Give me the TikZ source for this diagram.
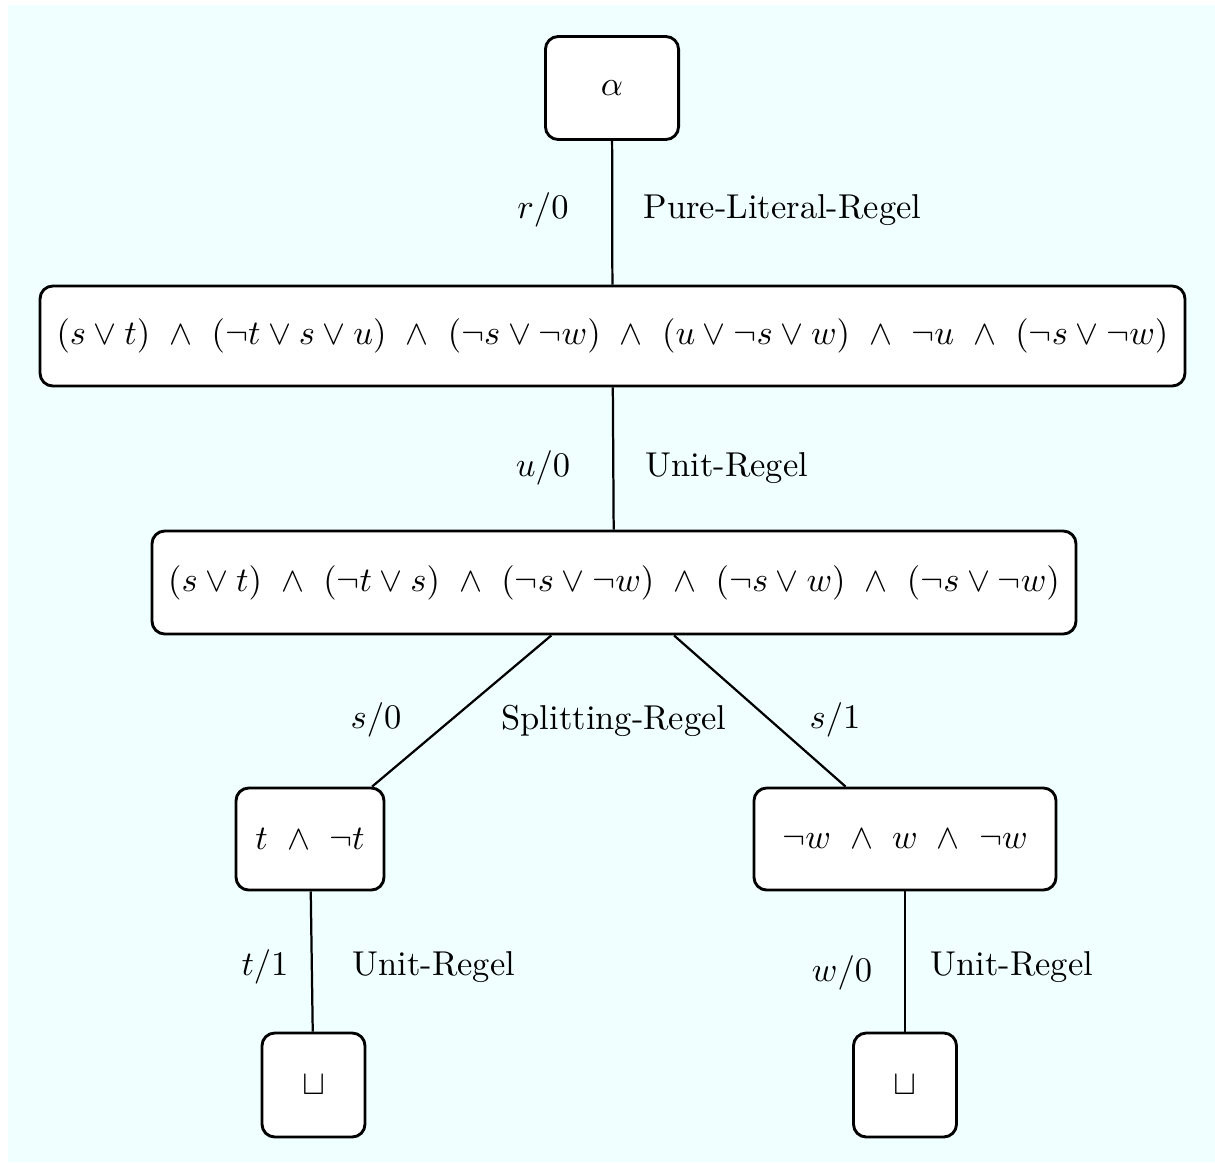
\documentclass[tikz,border=0pt]{standalone}
\usepackage{amssymb}
\usepackage{graphicx}
\definecolor{bgcol}{RGB}{240,255,255}
\newcommand\tx[1]{\scalebox{1.078}{#1}}
\begin{document}
\begin{tikzpicture}[x=0.3125pt,y=-0.3125pt,
  box/.style={draw=black,line width=0.9pt,rounded corners=4pt,fill=white,inner sep=0pt},
  edge/.style={draw=black,line width=0.7pt},
  lbl/.style={inner sep=0pt}]
\useasboundingbox (0,0) rectangle (1215,1162);
\fill[bgcol] (8,5) rectangle (1215,1162);
\node[box,minimum width=41.6pt,minimum height=32.2pt] (a) at (612,88) {\tx{$\alpha$}};
\node[box,minimum width=357.8pt,minimum height=31.25pt] (f1) at (612.5,336)
  {\tx{$(s\vee t)\ \wedge\ (\neg t\vee s\vee u)\ \wedge\ (\neg s\vee\neg w)\ \wedge\ (u\vee\neg s\vee w)\ \wedge\ \neg u\ \wedge\ (\neg s\vee\neg w)$}};
\node[box,minimum width=288.75pt,minimum height=32.2pt] (f2) at (614,582.5)
  {\tx{$(s\vee t)\ \wedge\ (\neg t\vee s)\ \wedge\ (\neg s\vee\neg w)\ \wedge\ (\neg s\vee w)\ \wedge\ (\neg s\vee\neg w)$}};
\node[box,minimum width=46.25pt,minimum height=31.9pt] (l) at (310,839) {\tx{$t\ \wedge\ \neg t$}};
\node[box,minimum width=94.4pt,minimum height=31.9pt] (r) at (905,839) {\tx{$\neg w\ \wedge\ w\ \wedge\ \neg w$}};
\node[box,minimum width=32.2pt,minimum height=32.5pt] (lb) at (313.5,1085) {\tx{$\sqcup$}};
\node[box,minimum width=32.2pt,minimum height=32.5pt] (rb) at (905,1085) {\tx{$\sqcup$}};
\draw[edge] (a) -- (f1);
\draw[edge] (f1) -- (f2);
\draw[edge] (f2) -- (l);
\draw[edge] (f2) -- (r);
\draw[edge] (l) -- (lb);
\draw[edge] (r) -- (rb);
\node[lbl] (l1) at (543,210) {\tx{$r/0$}};
\node[lbl,anchor=west] (t1) at (643,210) {\tx{Pure-Literal-Regel}};
\node[lbl] (l2) at (543,468) {\tx{$u/0$}};
\node[lbl,anchor=west] (t2) at (645,468) {\tx{Unit-Regel}};
\node[lbl] (l3) at (376,720) {\tx{$s/0$}};
\node[lbl] (t3) at (614,721) {\tx{Splitting-Regel}};
\node[lbl] (l4) at (835,720) {\tx{$s/1$}};
\node[lbl] (l5) at (265,967) {\tx{$t/1$}};
\node[lbl,anchor=west] (t5) at (352,967) {\tx{Unit-Regel}};
\node[lbl] (l6) at (842,973) {\tx{$w/0$}};
\node[lbl,anchor=west] (t6) at (930,967) {\tx{Unit-Regel}};
\end{tikzpicture}
\end{document}
